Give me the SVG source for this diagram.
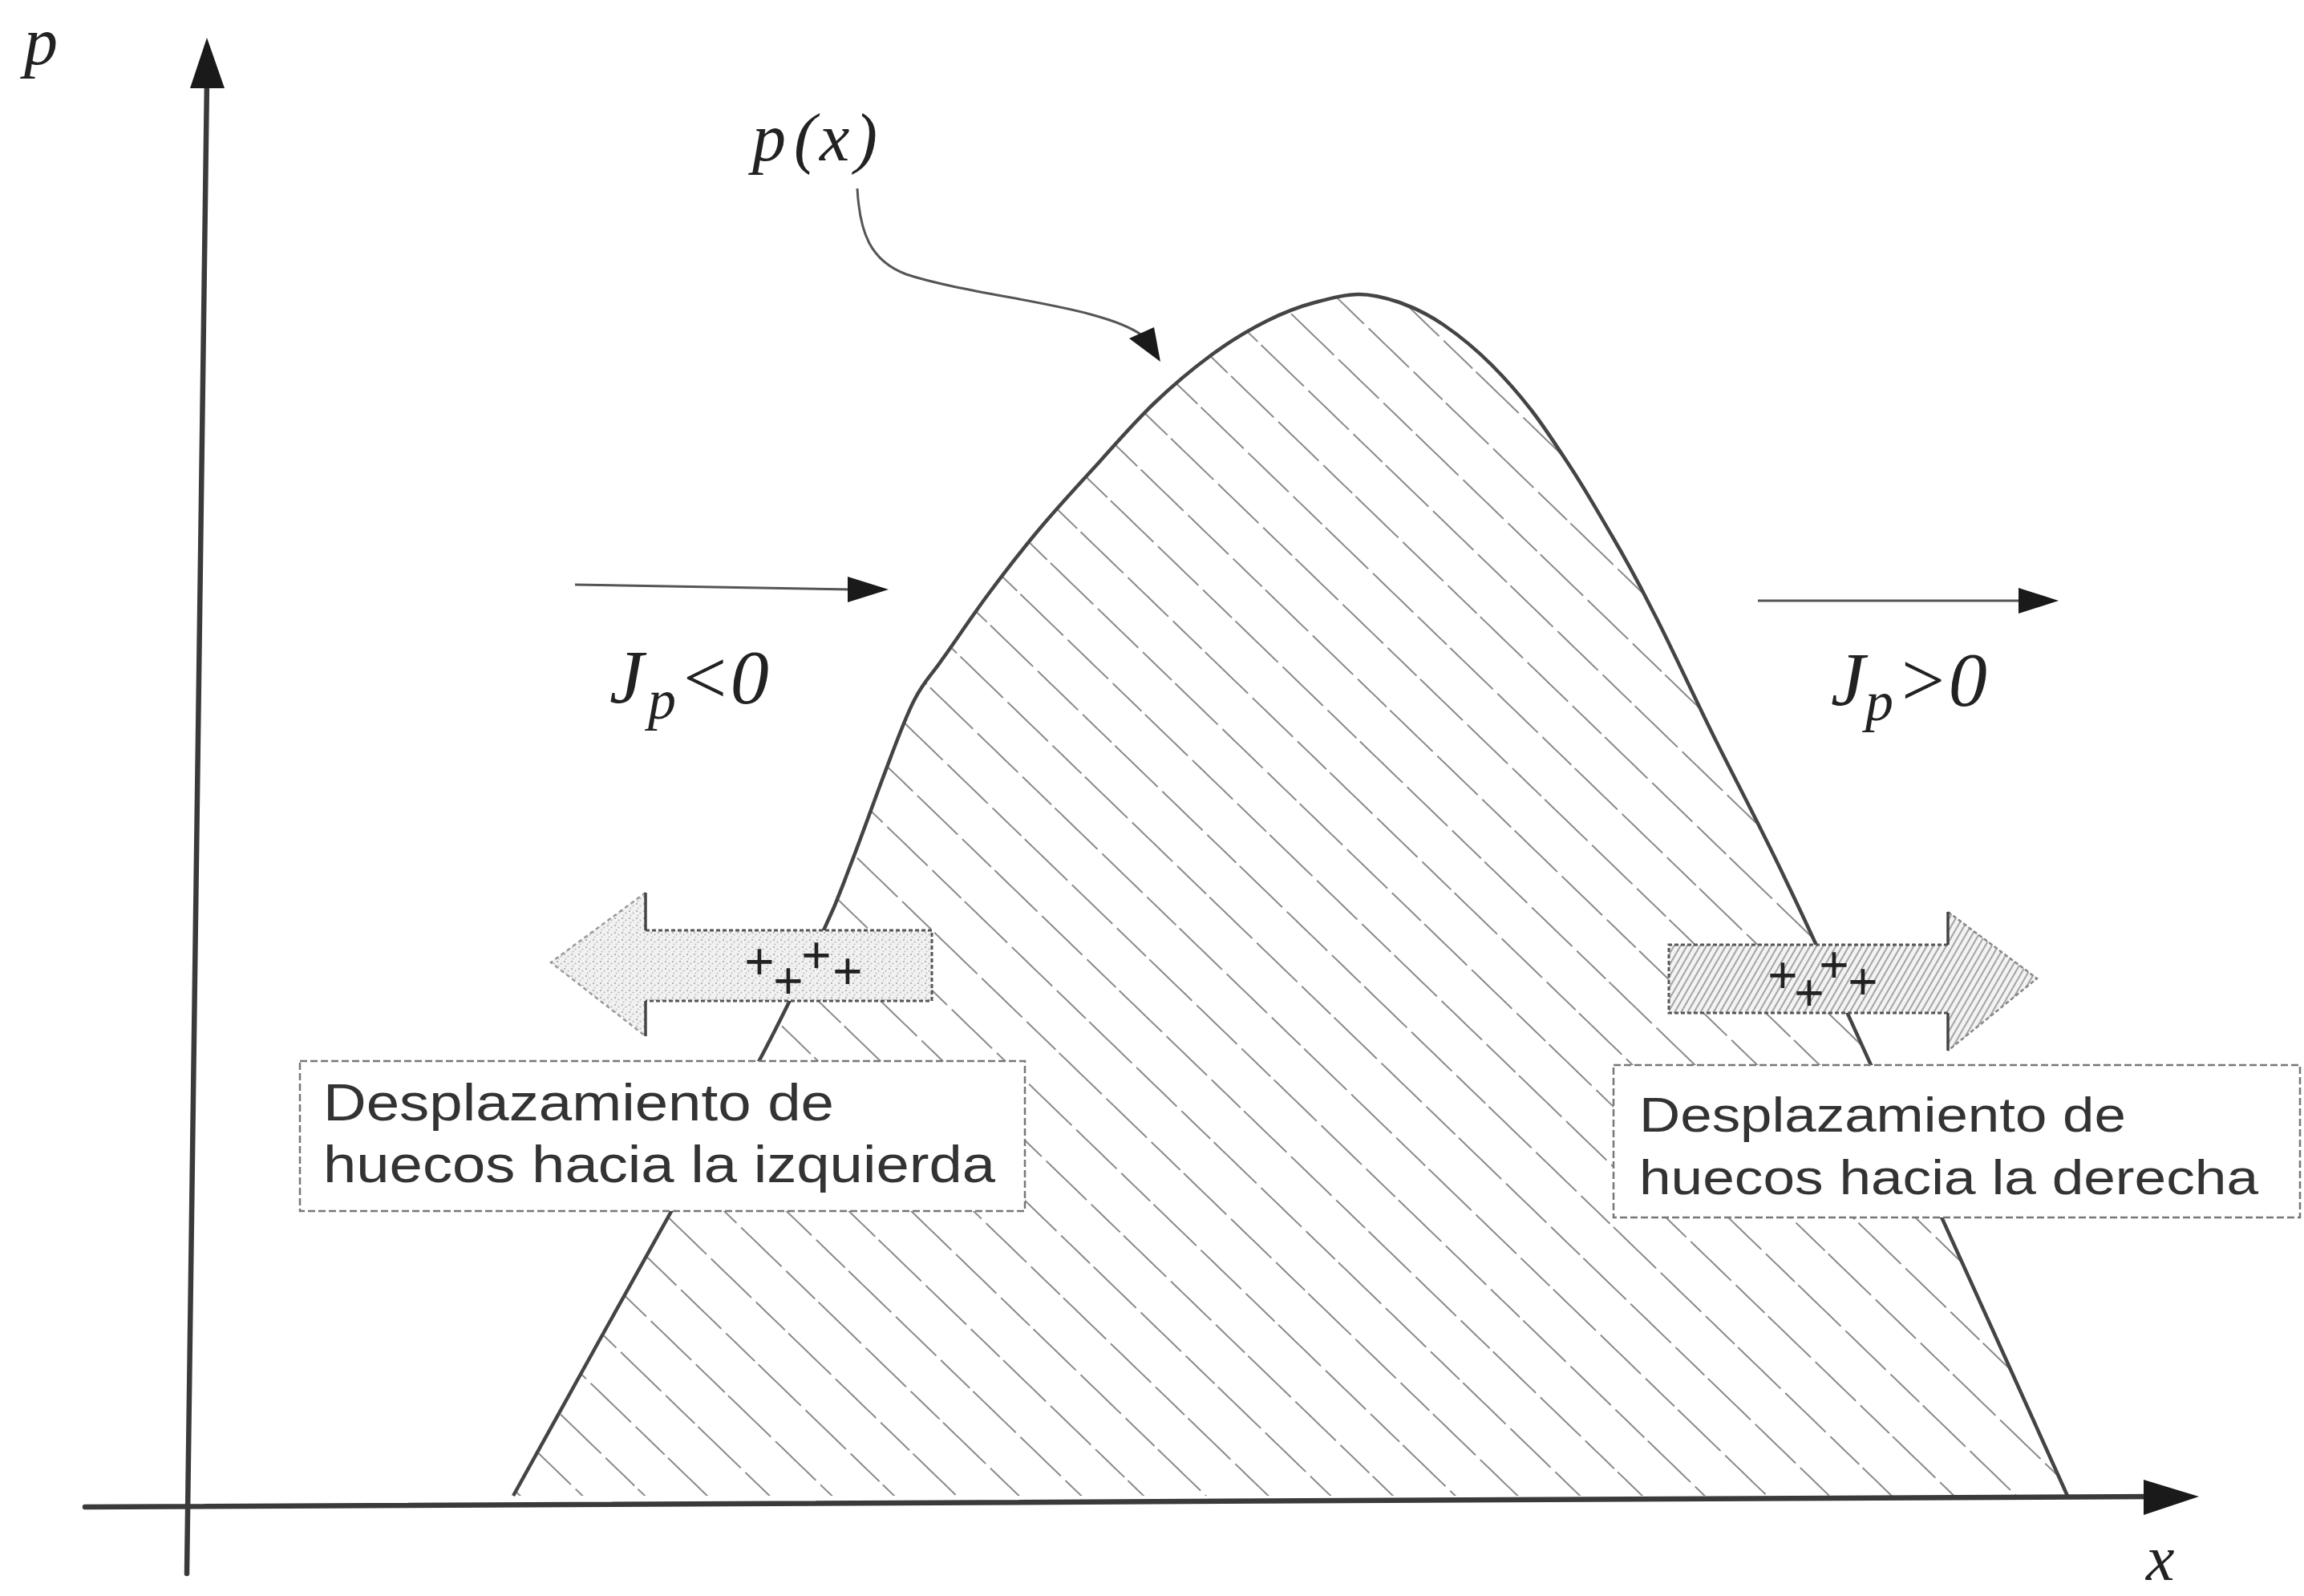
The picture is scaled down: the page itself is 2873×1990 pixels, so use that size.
<svg xmlns="http://www.w3.org/2000/svg" width="2873" height="1990" viewBox="0 0 2873 1990">
<style>
.axis{stroke:#3a3a3a;stroke-width:6.5;fill:none;stroke-linecap:round}
.curve{stroke:#444;stroke-width:4.5;fill:none;stroke-linejoin:round}
.thin{stroke:#555;stroke-width:3;fill:none}
.head{fill:#1a1a1a}
.math{font-family:"Liberation Serif","Times New Roman",serif;font-style:italic;fill:#222}
.lbl{font-family:"Liberation Sans",Arial,sans-serif;fill:#333}
.plus{font-family:"Liberation Sans",Arial,sans-serif;fill:#222;font-size:64px;text-anchor:middle}
.box{fill:#fff;stroke:#777;stroke-width:2.5;stroke-dasharray:9 4}
.aedge{fill:none;stroke:#555;stroke-width:3;stroke-dasharray:5 3}
.aback{fill:none;stroke:#444;stroke-width:3.5}
</style>
<defs>
<path id="pcurve" d="M640,1865 C673,1805 788,1598 839,1507 C890,1416 917,1378 948,1320 C979,1262 1008,1200 1027,1160 C1046,1120 1048,1111 1060,1080 C1072,1049 1086,1010 1099,975 C1112,941 1127,898 1140,873 C1153,848 1160,844 1175,822 C1191,800 1212,768 1233,740 C1254,712 1277,682 1300,655 C1323,628 1347,602 1370,577 C1393,551 1417,524 1440,502 C1463,480 1487,460 1510,443 C1533,426 1558,411 1580,400 C1602,389 1621,382 1640,377 C1659,372 1677,367 1695,367 C1712,367 1727,371 1745,377 C1762,383 1781,392 1800,405 C1819,418 1842,437 1860,455 C1878,473 1893,490 1910,512 C1927,534 1943,559 1960,585 C1977,611 1993,639 2010,668 C2027,697 2040,720 2060,760 C2081,800 2105,853 2133,910 C2161,967 2195,1030 2228,1100 C2262,1170 2302,1260 2334,1330 C2367,1400 2382,1433 2423,1522 C2464,1611 2552,1808 2578,1865"/>
<pattern id="hatch" patternUnits="userSpaceOnUse" width="216" height="54" patternTransform="rotate(44)">
<line x1="0" y1="27" x2="216" y2="27" stroke="#8a8a8a" stroke-width="2" stroke-dasharray="70 8 50 6 74 8"/>
</pattern>
<pattern id="stipple" patternUnits="userSpaceOnUse" width="9" height="9">
<rect width="9" height="9" fill="#f1f1f1"/>
<circle cx="2" cy="2" r="1.1" fill="#a8a8a8"/>
<circle cx="6.5" cy="4.5" r="1" fill="#b5b5b5"/>
<circle cx="3.5" cy="7.5" r="0.9" fill="#bcbcbc"/>
</pattern>
<pattern id="fine" patternUnits="userSpaceOnUse" width="7" height="7" patternTransform="rotate(-60)">
<rect width="7" height="7" fill="#f4f4f4"/>
<line x1="0" y1="3.5" x2="7" y2="3.5" stroke="#8c8c8c" stroke-width="1.6"/>
</pattern>
</defs>
<rect width="2873" height="1990" fill="#fff"/>

<g id="curve-region">
<path fill="url(#hatch)" d="M640,1865 C673,1805 788,1598 839,1507 C890,1416 917,1378 948,1320 C979,1262 1008,1200 1027,1160 C1046,1120 1048,1111 1060,1080 C1072,1049 1086,1010 1099,975 C1112,941 1127,898 1140,873 C1153,848 1160,844 1175,822 C1191,800 1212,768 1233,740 C1254,712 1277,682 1300,655 C1323,628 1347,602 1370,577 C1393,551 1417,524 1440,502 C1463,480 1487,460 1510,443 C1533,426 1558,411 1580,400 C1602,389 1621,382 1640,377 C1659,372 1677,367 1695,367 C1712,367 1727,371 1745,377 C1762,383 1781,392 1800,405 C1819,418 1842,437 1860,455 C1878,473 1893,490 1910,512 C1927,534 1943,559 1960,585 C1977,611 1993,639 2010,668 C2027,697 2040,720 2060,760 C2081,800 2105,853 2133,910 C2161,967 2195,1030 2228,1100 C2262,1170 2302,1260 2334,1330 C2367,1400 2382,1433 2423,1522 C2464,1611 2552,1808 2578,1865 Z"/>
<use href="#pcurve" class="curve"/>
</g>

<g id="axes">
<line class="axis" x1="233" y1="1962" x2="258" y2="100"/>
<polygon class="head" points="258,47 237,110 280,110"/>
<line class="axis" x1="106" y1="1879" x2="2690" y2="1866"/>
<polygon class="head" points="2742,1866 2673,1845 2673,1889"/>
<text class="math" x="30" y="80" font-size="84">p</text>
<text class="math" x="2676" y="1970" font-size="80">x</text>
</g>

<g id="connectors">
<path class="thin" d="M1069,235 C1072,290 1085,325 1130,342 C1190,362 1300,375 1360,392 C1390,400 1410,408 1424,418"/>
<polygon class="head" points="1447,451 1408,422 1439,408"/>
<line class="thin" x1="717" y1="729" x2="1062" y2="735"/>
<polygon class="head" points="1108,735 1057,719 1057,751"/>
<line class="thin" x1="2192" y1="749" x2="2522" y2="749"/>
<polygon class="head" points="2567,749 2517,733 2517,765"/>
</g>

<g id="label-px">
<text class="math" font-size="84" y="200"><tspan x="938">p</tspan><tspan x="990">(</tspan><tspan x="1022">x</tspan><tspan x="1066">)</tspan></text>
</g>

<g id="label-jp-neg">
<text class="math" font-size="96"><tspan x="760" y="877">J</tspan><tspan x="808" y="896" font-size="70">p</tspan><tspan x="846" y="877">&lt;0</tspan></text>
</g>

<g id="label-jp-pos">
<text class="math" font-size="96"><tspan x="2283" y="880">J</tspan><tspan x="2326" y="898" font-size="70">p</tspan><tspan x="2365" y="880">&gt;0</tspan></text>
</g>

<g id="arrow-left">
<polygon fill="url(#stipple)" points="687,1200 805,1113 805,1160 1162,1160 1162,1248 805,1248 805,1292"/>
<polyline fill="none" stroke="#9a9a9a" stroke-width="2.5" stroke-dasharray="5 4" points="805,1113 687,1200 805,1292"/>
<polyline class="aedge" points="805,1160 1162,1160 1162,1248 805,1248"/>
<line class="aback" x1="805" y1="1113" x2="805" y2="1160"/>
<line class="aback" x1="805" y1="1248" x2="805" y2="1292"/>
<text class="plus" x="947" y="1221">+</text>
<text class="plus" x="983" y="1245">+</text>
<text class="plus" x="1018" y="1213">+</text>
<text class="plus" x="1057" y="1233">+</text>
</g>

<g id="arrow-right">
<polygon fill="url(#fine)" points="2081,1178 2429,1178 2429,1137 2540,1220 2429,1310 2429,1263 2081,1263"/>
<polyline class="aedge" points="2429,1178 2081,1178 2081,1263 2429,1263"/>
<polyline fill="none" stroke="#888" stroke-width="2.5" stroke-dasharray="5 3" points="2429,1137 2540,1220 2429,1310"/>
<line class="aback" x1="2429" y1="1137" x2="2429" y2="1178"/>
<line class="aback" x1="2429" y1="1263" x2="2429" y2="1310"/>
<text class="plus" x="2223" y="1238">+</text>
<text class="plus" x="2256" y="1260">+</text>
<text class="plus" x="2287" y="1225">+</text>
<text class="plus" x="2323" y="1246">+</text>
</g>

<g id="box-left">
<rect class="box" x="374" y="1323" width="904" height="187"/>
<text class="lbl" font-size="64" x="403" y="1397" textLength="637" lengthAdjust="spacingAndGlyphs">Desplazamiento de</text>
<text class="lbl" font-size="64" x="403" y="1474" textLength="838" lengthAdjust="spacingAndGlyphs">huecos hacia la izquierda</text>
</g>

<g id="box-right">
<rect class="box" x="2012" y="1328" width="856" height="190"/>
<text class="lbl" font-size="62" x="2044" y="1411" textLength="607" lengthAdjust="spacingAndGlyphs">Desplazamiento de</text>
<text class="lbl" font-size="62" x="2044" y="1489" textLength="772" lengthAdjust="spacingAndGlyphs">huecos hacia la derecha</text>
</g>
</svg>
